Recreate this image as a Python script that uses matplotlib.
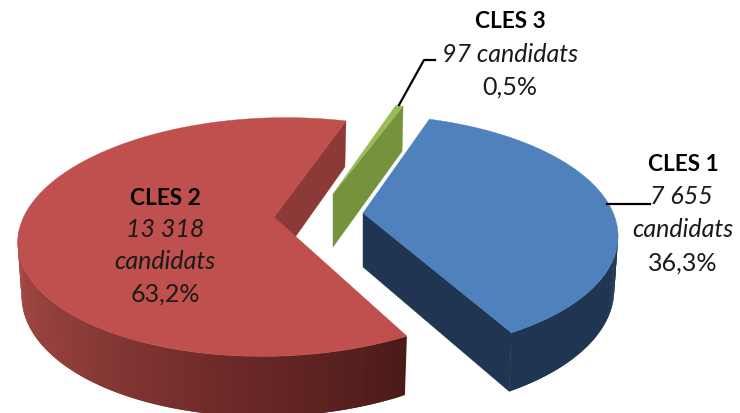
import numpy as np
import matplotlib
matplotlib.use('Agg')
import matplotlib.pyplot as plt
from matplotlib.colors import LinearSegmentedColormap

# data
names = ['CLES 1', 'CLES 2', 'CLES 3']
counts = [7655, 13318, 97]
count_labels = ['7 655', '13 318', '97 candidats']
pct_labels = ['36,3%', '63,2%', '0,5%']

top_colors = ['#4f81bd', '#c0504d', '#9bbb59']
wall_colors = ['#1f3552', '#8c3a38', '#76923c']

start_angle = 15.3
sweeps = 360.0 * np.array(counts) / sum(counts)
starts = start_angle + np.concatenate([[0], np.cumsum(sweeps)[:-1]])


def rim(t, cx, cy, rx, ry, k):
    # angle in degrees, clockwise from the top of the ellipse
    a = np.radians(t)
    return cx + rx * np.sin(a) + k * ry * np.cos(a), cy - ry * np.cos(a)


def drop(x, y, cx):
    # the lower edge sits further down and a bit narrower when it is nearer
    d = 46 + 0.06 * (y - 122)
    return cx + (x - cx) * 0.985, y + d


def draw_slice(i, tip, tip_depth, cx, cy, rx, ry, k, side_cmap=None):
    t0 = starts[i]
    t1 = t0 + sweeps[i]
    ts = np.linspace(t0, t1, 200)
    xs, ys = rim(ts, cx, cy, rx, ry, k)

    # outer side, only the front half of the ellipse shows
    # each piece overlaps the next one so no seams appear
    for j in range(len(ts) - 1):
        tm = ts[j] % 360
        if tm < 88 or tm > 272:
            continue
        e = min(j + 3, len(ts))
        lx, ly = drop(xs[j:e], ys[j:e], cx)
        col = wall_colors[i]
        if side_cmap is not None:
            col = side_cmap((tm - 146) / (272 - 146))
        ax.fill(np.r_[xs[j:e], lx[::-1]], np.r_[ys[j:e], ly[::-1]], color=col, lw=0, zorder=2)

    # cut wall
    wx, wy = rim(t1, cx, cy, rx, ry, k)
    lx, ly = drop(wx, wy, cx)
    ax.fill([tip[0], wx, lx, tip[0]], [tip[1], wy, ly, tip[1] + tip_depth],
            color=wall_colors[i], lw=0.3, zorder=1)

    # top face
    ax.fill(np.r_[tip[0], xs], np.r_[tip[1], ys], color=top_colors[i], lw=0.3, zorder=3)


fig = plt.figure(figsize=(7.4, 4.14), dpi=100)
ax = fig.add_axes([0, 0, 1, 1])
ax.set_xlim(0, 740)
ax.set_ylim(414, 0)
ax.axis('off')

red_side = LinearSegmentedColormap.from_list('red_side', ['#4b1b19', '#6e2a28', '#8f3d3a', '#a94b48'])

draw_slice(0, (363, 214), 54, 368, 235, 250, 119, -0.04)
draw_slice(1, (274, 218), 50, 274, 238, 256, 119.4, 0.1, red_side)
draw_slice(2, (333, 195), 53, 335, 220, 258, 117, 0.0)

# leader lines
ax.plot([399, 424, 435], [106, 61, 61], color='black', lw=1.6, zorder=4)
ax.plot([607, 650], [205, 205], color='black', lw=1.6, zorder=4)

# labels
fb = 16.3
fs = 18
font = 'Lato'
col = '#1a1a1a'
ax.text(683, 165, names[0], ha='center', va='center', fontsize=fb, fontweight='bold', family=font, color='black')
ax.text(681, 197, count_labels[0], ha='center', va='center', fontsize=fs, style='italic', family=font, color=col)
ax.text(683, 230, 'candidats', ha='center', va='center', fontsize=fs, style='italic', family=font, color=col)
ax.text(683, 263, pct_labels[0], ha='center', va='center', fontsize=fs, family=font, color=col)

ax.text(165, 199, names[1], ha='center', va='center', fontsize=fb, fontweight='bold', family=font, color='black')
ax.text(165, 230, count_labels[1], ha='center', va='center', fontsize=fs, style='italic', family=font, color=col)
ax.text(165, 262, 'candidats', ha='center', va='center', fontsize=fs, style='italic', family=font, color=col)
ax.text(165, 294, pct_labels[1], ha='center', va='center', fontsize=fs, family=font, color=col)

ax.text(510, 22, names[2], ha='center', va='center', fontsize=fb, fontweight='bold', family=font, color='black')
ax.text(510, 55, count_labels[2], ha='center', va='center', fontsize=fs, style='italic', family=font, color=col)
ax.text(510, 87, pct_labels[2], ha='center', va='center', fontsize=fs, family=font, color=col)

fig.savefig('out.png', dpi=100)
